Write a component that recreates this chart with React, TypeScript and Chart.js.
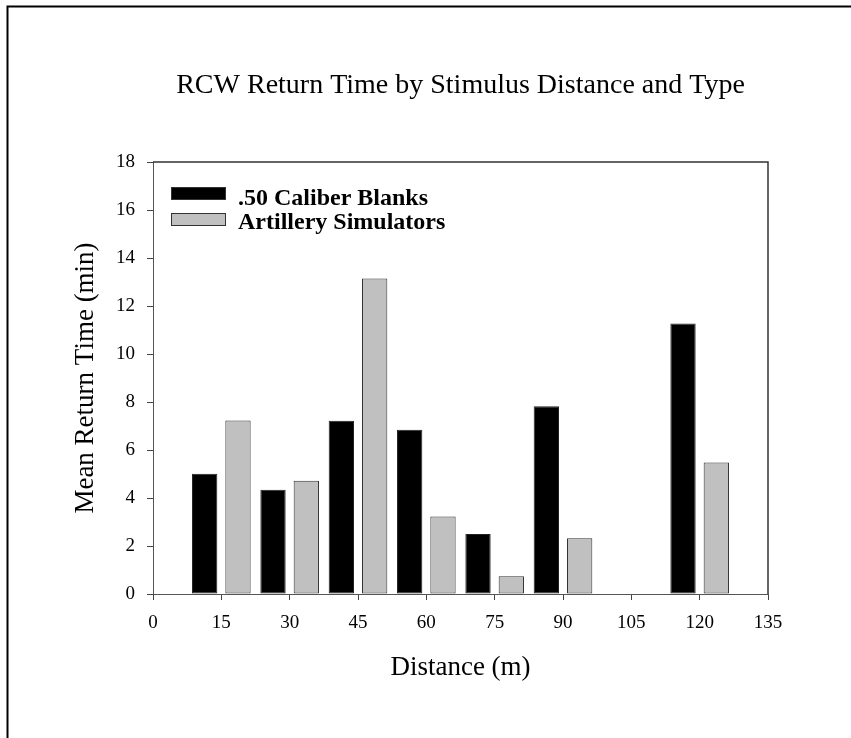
import React, { useEffect, useRef } from "react";
import { Chart, registerables } from "chart.js";

Chart.register(...registerables);

const distances = [15, 30, 45, 60, 75, 90, 105, 120];
const caliberBlanks = [5.01, 4.34, 7.22, 6.84, 2.5, 7.82, null, 11.27];
const artillerySimulators = [7.23, 4.72, 13.15, 3.23, 0.74, 2.32, null, 5.48];
const seriesNames = [".50 Caliber Blanks", "Artillery Simulators"];
const chartTitle = "RCW Return Time by Stimulus Distance and Type";
const xTitle = "Distance (m)";
const yTitle = "Mean Return Time (min)";

const SERIF = '"Liberation Serif", "Times New Roman", serif';

const decorPlugin = {
  id: "decor",
  afterDraw(chart: any) {
    const ctx = chart.ctx;
    const a = chart.chartArea;
    ctx.save();
    // outer frame
    ctx.strokeStyle = "#000";
    ctx.lineWidth = 2;
    ctx.beginPath();
    ctx.moveTo(7.5, 738);
    ctx.lineTo(7.5, 6.5);
    ctx.lineTo(851, 6.5);
    ctx.stroke();
    // plot frame top/right
    ctx.strokeStyle = "#333";
    ctx.lineWidth = 1.5;
    ctx.beginPath();
    ctx.moveTo(a.left, a.top);
    ctx.lineTo(a.right, a.top);
    ctx.lineTo(a.right, a.bottom);
    ctx.stroke();
    // title
    ctx.fillStyle = "#000";
    ctx.font = `28px ${SERIF}`;
    ctx.textAlign = "center";
    ctx.textBaseline = "alphabetic";
    ctx.fillText(chartTitle, (a.left + a.right) / 2, 93);
    // legend
    const colors = ["#000000", "#c0c0c0"];
    ctx.font = `bold 24px ${SERIF}`;
    ctx.textAlign = "left";
    seriesNames.forEach((name, i) => {
      const y = 187 + i * 26;
      ctx.fillStyle = colors[i];
      ctx.fillRect(171, y, 55, 13);
      ctx.strokeStyle = "#333";
      ctx.lineWidth = 1;
      ctx.strokeRect(171.5, y + 0.5, 54, 12);
      ctx.fillStyle = "#000";
      ctx.fillText(name, 238, 205 + i * 24);
    });
    ctx.restore();
  },
};

export default function App() {
  const ref = useRef<HTMLCanvasElement | null>(null);

  useEffect(() => {
    if (!ref.current) return;
    const chart = new Chart(ref.current, {
      type: "bar",
      data: {
        labels: distances,
        datasets: [
          {
            label: seriesNames[0],
            data: caliberBlanks,
            backgroundColor: "#000000",
            borderColor: "#222222",
            borderWidth: 1,
            borderSkipped: false,
          },
          {
            label: seriesNames[1],
            data: artillerySimulators,
            backgroundColor: "#c0c0c0",
            borderColor: "#333333",
            borderWidth: 1,
            borderSkipped: false,
          },
        ],
      },
      options: {
        responsive: false,
        animation: false,
        categoryPercentage: 0.975,
        barPercentage: 0.76,
        layout: { padding: { left: 66, right: 83, top: 162, bottom: 50 } },
        plugins: {
          legend: { display: false },
          tooltip: { enabled: false },
          title: { display: false },
        },
        scales: {
          x: {
            type: "linear",
            min: 0,
            max: 135,
            offset: false,
            afterFit: (s: any) => {
              s.height = 94;
            },
            ticks: {
              stepSize: 15,
              color: "#000",
              padding: 12,
              maxRotation: 0,
              font: { family: SERIF, size: 19 },
            },
            grid: {
              offset: false,
              drawOnChartArea: false,
              drawTicks: true,
              tickLength: 6,
              color: "#444",
            },
            border: { display: true, color: "#555", width: 1 },
            title: {
              display: true,
              text: xTitle,
              color: "#000",
              font: { family: SERIF, size: 27 },
            },
          },
          y: {
            type: "linear",
            min: 0,
            max: 18,
            afterFit: (s: any) => {
              s.width = 87;
            },
            ticks: {
              stepSize: 2,
              color: "#000",
              padding: 12,
              font: { family: SERIF, size: 19 },
            },
            grid: {
              drawOnChartArea: false,
              drawTicks: true,
              tickLength: 6,
              color: "#444",
            },
            border: { display: true, color: "#555", width: 1 },
            title: {
              display: true,
              text: yTitle,
              color: "#000",
              font: { family: SERIF, size: 27 },
            },
          },
        },
      } as any,
      plugins: [decorPlugin],
    });
    return () => chart.destroy();
  }, []);

  return (
    <div style={{ position: "fixed", left: 0, top: 0, width: 851, height: 738, background: "#fff" }}>
      <canvas ref={ref} width={851} height={738} style={{ display: "block" }} />
    </div>
  );
}
